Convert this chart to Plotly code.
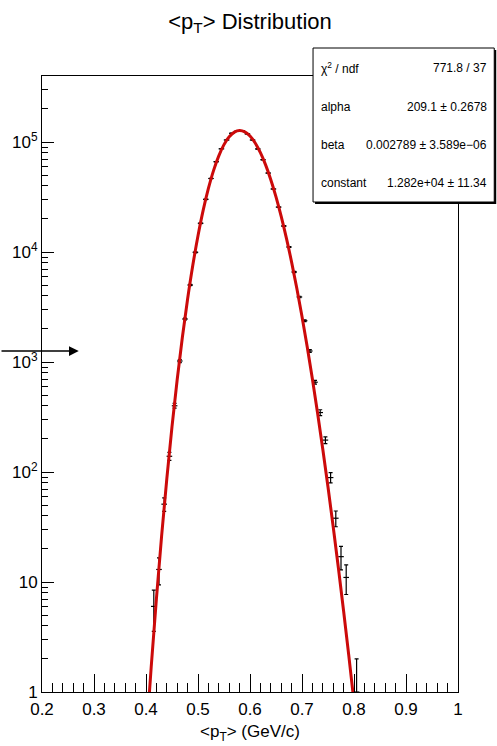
import plotly.graph_objects as go

# ---------------- data ----------------
bin_centres = [0.415, 0.425, 0.435, 0.445, 0.455, 0.465, 0.475, 0.485, 0.495, 0.505,
               0.515, 0.525, 0.535, 0.545, 0.555, 0.565, 0.575, 0.585, 0.595, 0.605,
               0.615, 0.625, 0.635, 0.645, 0.655, 0.665, 0.675, 0.685, 0.695, 0.705,
               0.715, 0.725, 0.735, 0.745, 0.755, 0.765, 0.775, 0.785, 0.805]
counts = [6, 13, 51, 139, 400, 1021, 2460, 5010, 9935, 18240,
          30130, 46600, 66200, 86700, 104300, 120000, 125500, 126500, 118500, 104300,
          86500, 69000, 52200, 37400, 25600, 17230, 11100, 6580, 3900, 2373,
          1259, 655, 347, 195, 89, 38, 17, 11, 1]
errors = [2.45, 3.6, 7.1, 11.5, 20, 32, 50, 71, 100, 135,
          174, 216, 257, 294, 323, 346, 354, 356, 344, 323,
          294, 263, 228, 193, 160, 131, 105, 81, 62, 49,
          35, 26, 21, 14, 9.5, 6.2, 4.1, 3.3, 1.0]

# red fit curve
curve_x = [0.40, 0.41, 0.42, 0.43, 0.44, 0.45, 0.46, 0.47, 0.48, 0.49,
           0.50, 0.51, 0.52, 0.53, 0.54, 0.55, 0.56, 0.57, 0.58, 0.59,
           0.60, 0.61, 0.62, 0.63, 0.64, 0.65, 0.66, 0.67, 0.68, 0.69,
           0.70, 0.71, 0.72, 0.73, 0.74, 0.75, 0.76, 0.77, 0.78, 0.79,
           0.80, 0.81]
curve_y = [0.357, 1.687, 7.04, 26.1, 86.6, 258, 693, 1687, 3738, 7568,
           14050, 24000, 37820, 55250, 74880, 94630, 111400, 122950, 127100, 123600,
           113200, 97800, 79900, 61920, 45460, 31750, 21110, 13380, 8093, 4683,
           2591, 1376, 700, 342.6, 161.2, 73.0, 31.8, 13.4, 5.45, 2.14,
           0.81, 0.30]

x_ticks = [0.2, 0.3, 0.4, 0.5, 0.6, 0.7, 0.8, 0.9, 1.0]
x_tick_text = ["0.2", "0.3", "0.4", "0.5", "0.6", "0.7", "0.8", "0.9", "1"]
y_ticks = [1, 10, 100, 1000, 10000, 100000]
y_tick_text = ["1", "10", "10<sup>2</sup>", "10<sup>3</sup>", "10<sup>4</sup>", "10<sup>5</sup>"]

stats_labels = ["χ<sup>2</sup> / ndf", "alpha", "beta", "constant"]
stats_values = ["771.8 / 37", "209.1 ± 0.2678", "0.002789 ± 3.589e−06", "1.282e+04 ± 11.34"]

# ---------------- layout geometry ----------------
W, H = 497, 746
L, R, T, B = 39, 458, 76, 692
FONT = "Liberation Sans, Arial, Helvetica, sans-serif"


def px2x(px):
    return (px - L) / (R - L)


def py2y(py):
    return (B - py) / (B - T)


err_minus = [min(e, c * 0.999) for e, c in zip(errors, counts)]

fig = go.Figure()
fig.add_trace(go.Scatter(
    x=bin_centres, y=counts, mode="markers",
    marker=dict(symbol="line-ew-open", size=4, color="black",
                line=dict(color="black", width=1.2)),
    error_y=dict(type="data", array=errors, arrayminus=err_minus,
                 color="black", thickness=1.2, width=2),
    showlegend=False,
))
fig.add_trace(go.Scatter(
    x=curve_x, y=curve_y, mode="lines", line=dict(color="#cc0a0a", width=3, shape="spline"),
    showlegend=False,
))

minor_y = []
for dec in [1, 10, 100, 1000, 10000, 100000]:
    for k in range(2, 10):
        minor_y.append(k * dec)

fig.update_layout(
    width=W, height=H,
    margin=dict(l=L, r=W - R, t=T, b=H - B, pad=0),
    paper_bgcolor="white", plot_bgcolor="white",
    font=dict(family=FONT, color="black"),
    title=dict(text="&lt;p<sub>T</sub>&gt; Distribution", x=0.5, xref="paper",
               xanchor="center", y=1 - 21 / H, yanchor="middle", yref="container",
               font=dict(size=22, family=FONT, color="black")),
    xaxis=dict(range=[0.2, 1.0], tickmode="array", tickvals=x_ticks, ticktext=x_tick_text,
               ticks="inside", ticklen=18, tickwidth=1, tickcolor="black",
               ticklabelstandoff=2,
               minor=dict(ticks="inside", ticklen=9, tickwidth=1, tickcolor="black",
                          tickmode="linear", tick0=0.2, dtick=0.02),
               showgrid=False, zeroline=False, showline=True, linecolor="black",
               linewidth=1, mirror=True, tickfont=dict(size=17, family=FONT)),
    yaxis=dict(type="log", range=[0, 5.6], tickmode="array", tickvals=y_ticks,
               ticktext=y_tick_text, ticks="inside", ticklen=12, tickwidth=1,
               tickcolor="black",
               minor=dict(ticks="inside", ticklen=6, tickwidth=1, tickcolor="black",
                          tickmode="array", tickvals=minor_y),
               showgrid=False, zeroline=False, showline=True, linecolor="black",
               linewidth=1, mirror=True, tickfont=dict(size=17, family=FONT)),
)

# x-axis title
fig.add_annotation(text="&lt;p<sub>T</sub>&gt; (GeV/c)", xref="paper", yref="paper",
                   x=0.5, y=py2y(746), xanchor="center", yanchor="bottom",
                   showarrow=False, font=dict(size=17, family=FONT, color="black"))

# arrow from the left edge
fig.add_annotation(x=px2x(76), y=py2y(351), xref="paper", yref="paper",
                   ax=-80, ay=0, axref="pixel", ayref="pixel", text="",
                   showarrow=True, arrowhead=2, arrowsize=1.3, arrowwidth=1.5,
                   arrowcolor="black")

# stats box (shadow + box)
fig.add_shape(type="rect", xref="paper", yref="paper",
              x0=px2x(314), x1=px2x(496.5), y0=py2y(204), y1=py2y(50),
              fillcolor="black", line=dict(width=0), layer="above")
fig.add_shape(type="rect", xref="paper", yref="paper",
              x0=px2x(312), x1=px2x(494.5), y0=py2y(202), y1=py2y(48),
              fillcolor="white", line=dict(color="black", width=1), layer="above")
rows = [68, 107, 145, 183]
for lab, val, yy in zip(stats_labels, stats_values, rows):
    fig.add_annotation(text=lab, xref="paper", yref="paper", x=px2x(318), y=py2y(yy),
                       xanchor="left", yanchor="middle", showarrow=False,
                       font=dict(size=12, family=FONT, color="black"))
    fig.add_annotation(text=val, xref="paper", yref="paper", x=px2x(489), y=py2y(yy),
                       xanchor="right", yanchor="middle", showarrow=False,
                       font=dict(size=12, family=FONT, color="black"))

fig.write_html("out.html")
